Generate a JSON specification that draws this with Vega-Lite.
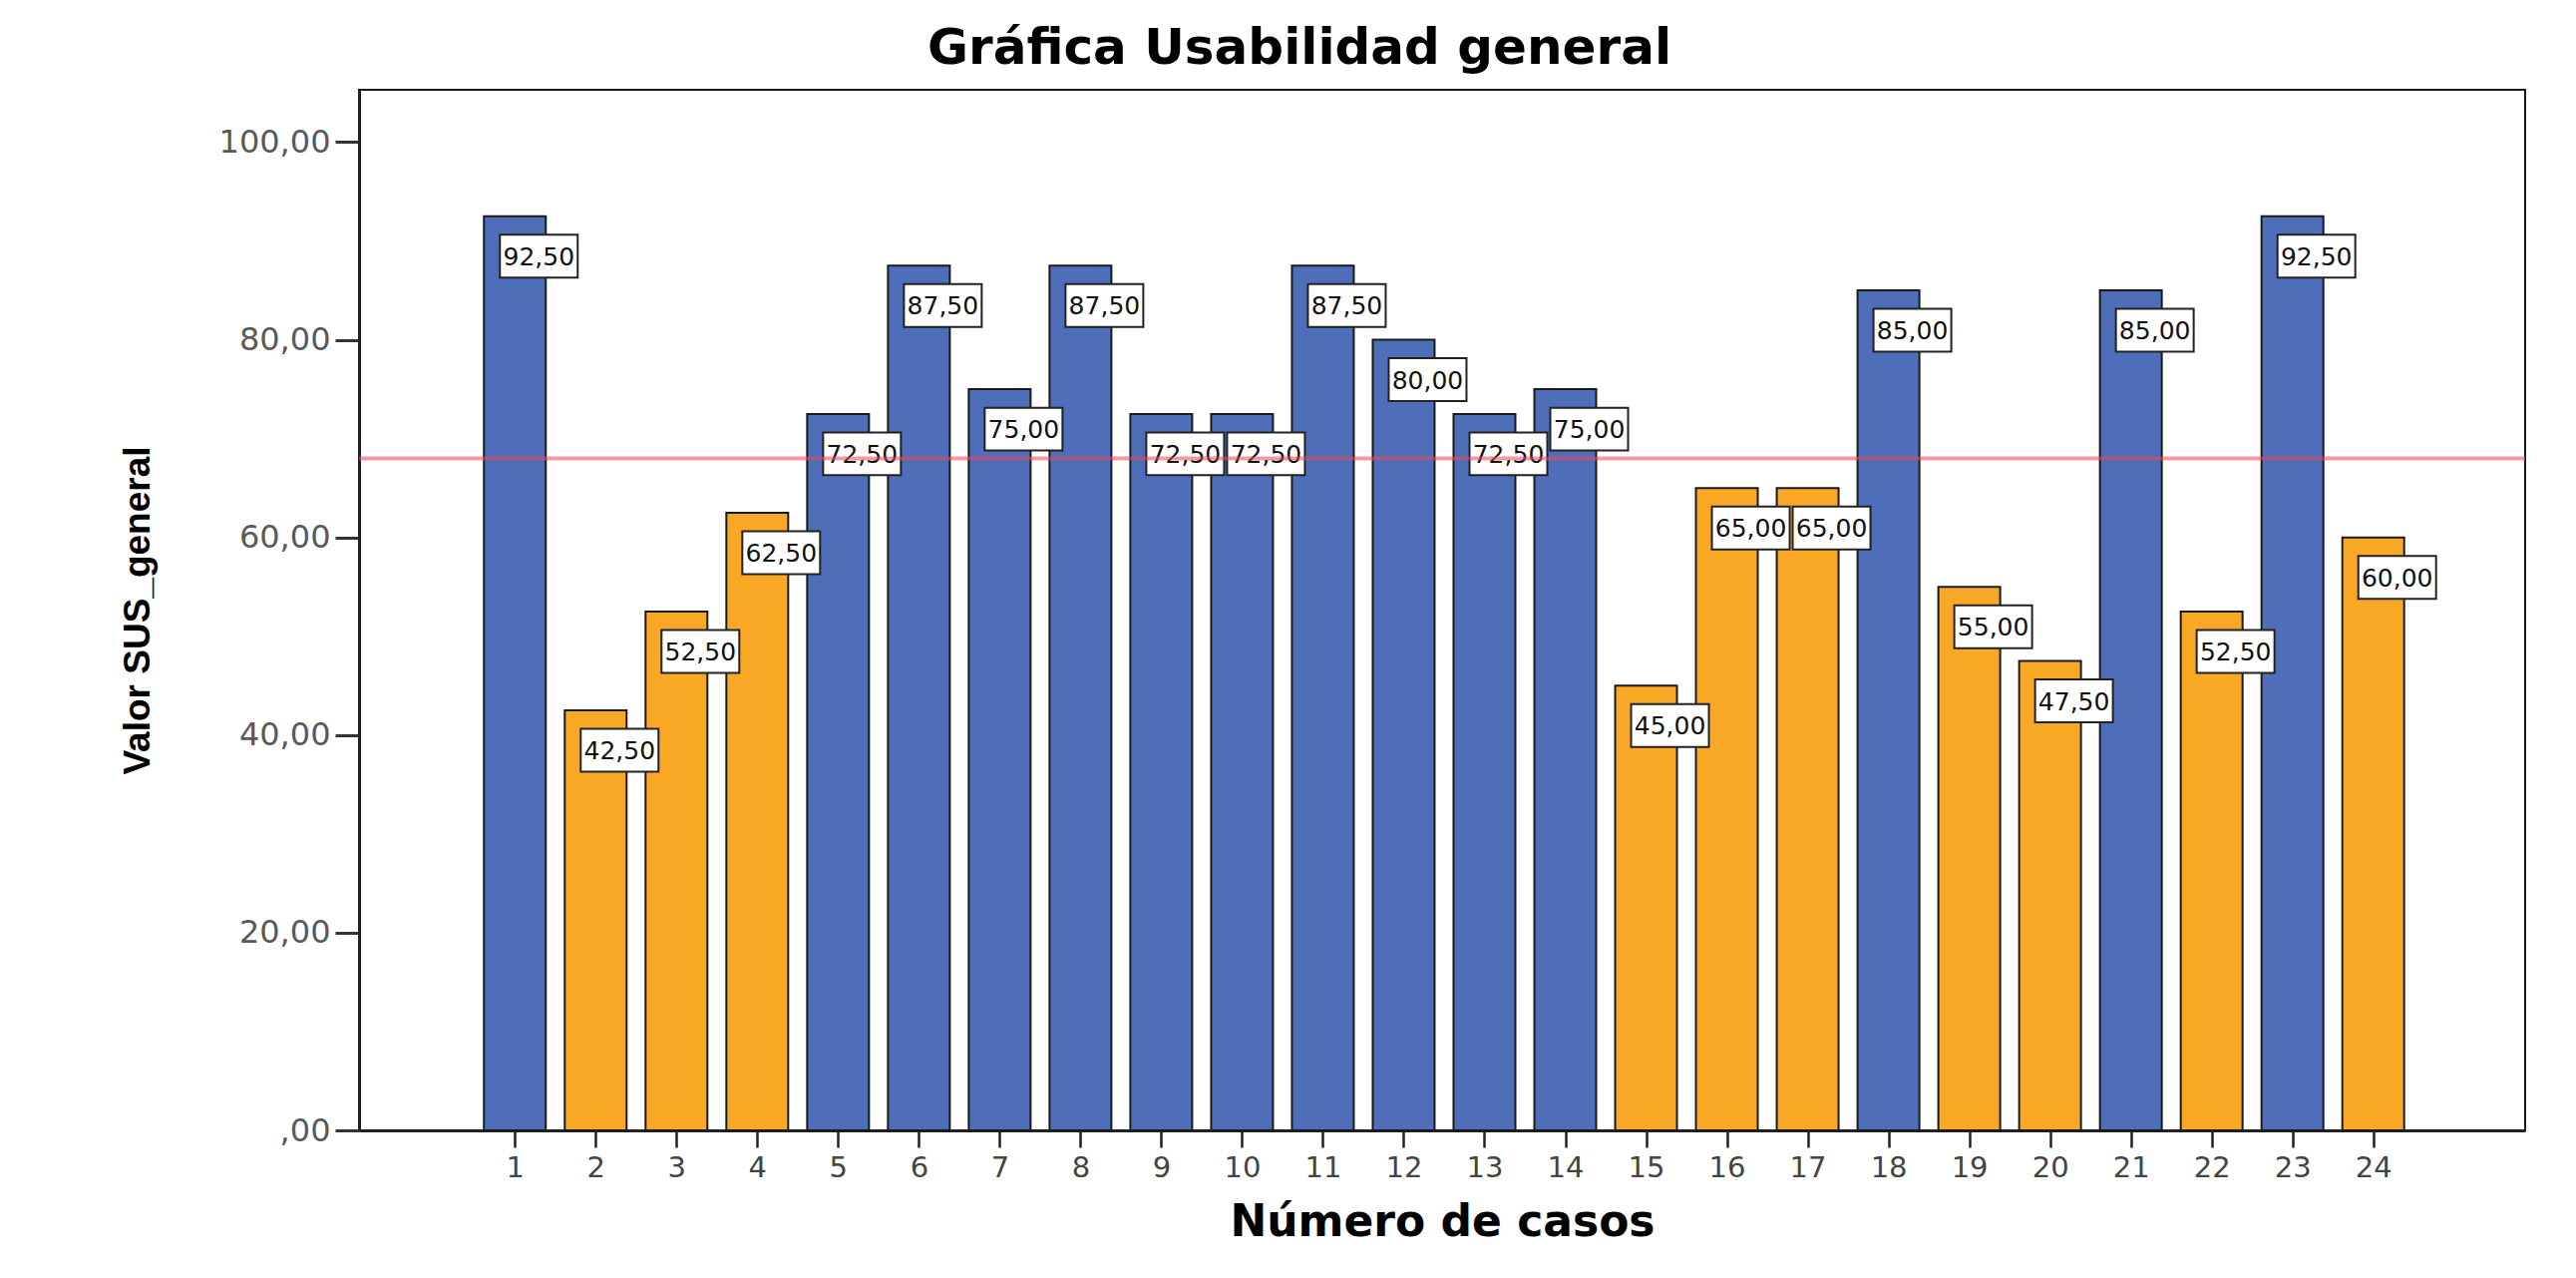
{
  "$schema": "https://vega.github.io/schema/vega-lite/v6.json",
  "width": 2172,
  "height": 1043,
  "autosize": {"type": "none"},
  "padding": {"left": 360, "top": 90, "right": 51, "bottom": 148},
  "background": "white",
  "title": {
    "text": "Gráfica Usabilidad general",
    "font": "DejaVu Sans",
    "fontSize": 50,
    "fontWeight": "bold",
    "color": "#000000",
    "anchor": "middle",
    "frame": "group",
    "dx": -143,
    "offset": 16
  },
  "config": {
    "view": {"stroke": "#1a1a1a", "strokeWidth": 2},
    "axis": {"grid": false},
    "locale": {
      "number": {"decimal": ",", "thousands": ".", "grouping": [3], "currency": ["", " €"]}
    }
  },
  "datasets": {
    "casos": [
      {"caso": 1, "valor": 92.5},
      {"caso": 2, "valor": 42.5},
      {"caso": 3, "valor": 52.5},
      {"caso": 4, "valor": 62.5},
      {"caso": 5, "valor": 72.5},
      {"caso": 6, "valor": 87.5},
      {"caso": 7, "valor": 75},
      {"caso": 8, "valor": 87.5},
      {"caso": 9, "valor": 72.5},
      {"caso": 10, "valor": 72.5},
      {"caso": 11, "valor": 87.5},
      {"caso": 12, "valor": 80},
      {"caso": 13, "valor": 72.5},
      {"caso": 14, "valor": 75},
      {"caso": 15, "valor": 45},
      {"caso": 16, "valor": 65},
      {"caso": 17, "valor": 65},
      {"caso": 18, "valor": 85},
      {"caso": 19, "valor": 55},
      {"caso": 20, "valor": 47.5},
      {"caso": 21, "valor": 85},
      {"caso": 22, "valor": 52.5},
      {"caso": 23, "valor": 92.5},
      {"caso": 24, "valor": 60}
    ],
    "referencia": [{"sus_promedio": 68}]
  },
  "layer": [
    {
      "data": {"name": "casos"},
      "mark": {"type": "bar", "width": 62, "stroke": "#1a1a1a", "strokeWidth": 2},
      "encoding": {
        "x": {
          "field": "caso",
          "type": "quantitative",
          "scale": {"domain": [-0.867, 25.818], "nice": false, "zero": false},
          "axis": {
            "values": [1,2,3,4,5,6,7,8,9,10,11,12,13,14,15,16,17,18,19,20,21,22,23,24],
            "format": "d",
            "title": "Número de casos",
            "titleFont": "DejaVu Sans",
            "titleFontSize": 44,
            "titleFontWeight": "bold",
            "titleColor": "#000000",
            "titlePadding": 18,
            "labelFont": "DejaVu Sans",
            "labelFontSize": 29,
            "labelColor": "#444444",
            "labelPadding": 6,
            "labelFlush": false,
            "labelOverlap": false,
            "tickSize": 17,
            "tickWidth": 2.5,
            "tickColor": "#222222",
            "domainColor": "#222222",
            "domainWidth": 3,
            "grid": false
          }
        },
        "y": {
          "field": "valor",
          "type": "quantitative",
          "scale": {"domain": [0, 105.3], "nice": false},
          "axis": {
            "values": [0, 20, 40, 60, 80, 100],
            "labelExpr": "datum.value == 0 ? ',00' : replace(format(datum.value, '.2f'), '.', ',')",
            "title": "Valor SUS_general",
            "titleFont": "Liberation Sans",
            "titleFontSize": 37,
            "titleFontWeight": "bold",
            "titleColor": "#000000",
            "titlePadding": 62,
            "labelFont": "DejaVu Sans",
            "labelFontSize": 32,
            "labelColor": "#595959",
            "labelPadding": 5,
            "tickSize": 24,
            "tickWidth": 3,
            "tickColor": "#333333",
            "domainColor": "#222222",
            "domainWidth": 3,
            "grid": false
          }
        },
        "color": {
          "condition": {"test": "datum.valor >= 68", "value": "#4e6eb9"},
          "value": "#f9a826"
        }
      }
    },
    {
      "data": {"name": "casos"},
      "mark": {
        "type": "point",
        "shape": "M-1,-0.551H1V0.551H-1Z",
        "size": 6084,
        "filled": true,
        "fill": "#ffffff",
        "fillOpacity": 1,
        "stroke": "#222222",
        "strokeOpacity": 1,
        "strokeWidth": 2,
        "opacity": 1,
        "xOffset": 24,
        "yOffset": 40
      },
      "encoding": {
        "x": {"field": "caso", "type": "quantitative"},
        "y": {"field": "valor", "type": "quantitative"}
      }
    },
    {
      "data": {"name": "casos"},
      "mark": {
        "type": "text",
        "font": "DejaVu Sans",
        "fontSize": 25,
        "color": "#111111",
        "align": "center",
        "baseline": "middle",
        "xOffset": 24,
        "yOffset": 41
      },
      "encoding": {
        "x": {"field": "caso", "type": "quantitative"},
        "y": {"field": "valor", "type": "quantitative"},
        "text": {"field": "valor", "type": "quantitative", "format": ".2f"}
      }
    },
    {
      "data": {"name": "referencia"},
      "mark": {"type": "rule", "color": "#e8485a", "opacity": 0.55, "strokeWidth": 4},
      "encoding": {
        "y": {"field": "sus_promedio", "type": "quantitative"}
      }
    }
  ]
}
